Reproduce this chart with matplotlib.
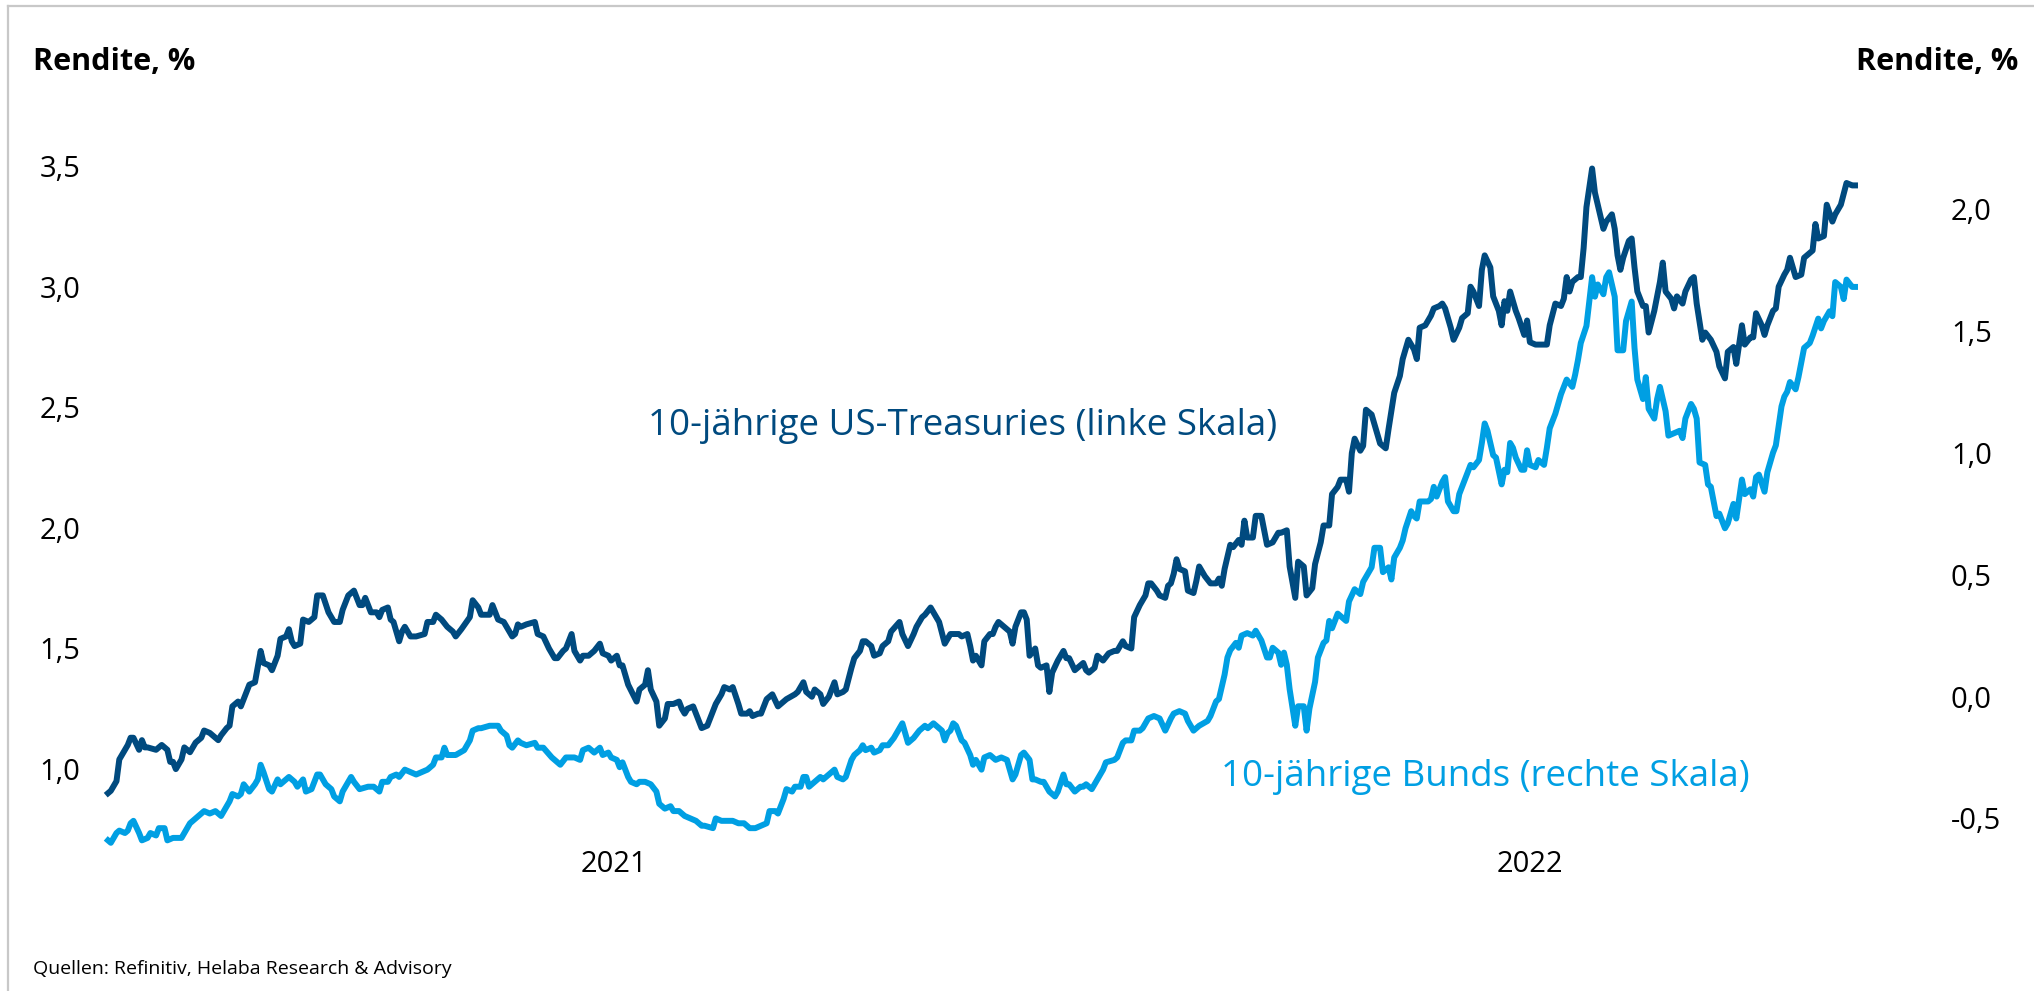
import matplotlib
matplotlib.use('Agg')
import matplotlib.pyplot as plt
from matplotlib.lines import Line2D
from matplotlib.ticker import FuncFormatter
import pandas as pd

plt.rcParams['font.family'] = ['Open Sans', 'DejaVu Sans']

# days counted from the first observation
start = pd.Timestamp('2021-01-04')

us_days = [
    0, 1, 3, 4, 5, 7, 8, 9, 11, 12, 13, 14, 17, 19, 21, 22, 23, 24, 26, 27,
    29, 31, 33, 34, 36, 39, 40, 42, 43, 44, 46, 47, 49, 50, 52, 54, 55, 57, 58, 60,
    61, 63, 64, 65, 66, 68, 69, 71, 73, 74, 76, 78, 80, 82, 83, 85, 86, 87, 89, 90,
    91, 93, 95, 96, 97, 99, 100, 101, 103, 104, 105, 107, 109, 112, 113, 115, 116, 118, 120, 122,
    123, 125, 128, 129, 131, 132, 135, 136, 138, 140, 141, 143, 144, 145,
    146, 148, 151, 152, 154, 156, 158, 159, 161, 162, 164, 165, 167, 168, 170, 172, 174, 175, 177, 178,
    180, 181, 182, 184, 187, 188, 190, 191, 192, 194, 195, 197, 198, 200, 202, 203, 204, 205, 207, 209,
    210, 212, 213, 215, 217, 218, 220, 221, 223, 224, 226, 227, 228, 230, 231, 233, 235, 237, 238, 240,
    243, 244, 246, 247, 249, 250, 252, 253, 255, 257, 258, 260, 261, 263, 264, 266, 267, 268, 270, 271,
    273, 274, 276, 277, 280, 281, 283, 285, 286, 288, 289, 291, 292, 294, 296,
    298, 300, 301, 302, 304, 305, 306, 307, 309, 310, 312, 313, 314, 315, 317, 319, 320, 321, 323, 324,
    325, 326, 328, 329, 330, 332, 333, 334, 336, 338, 339, 340, 342, 343, 345, 346, 347, 349, 350, 352,
    354, 356, 357, 359, 360, 362, 363, 365, 367, 368, 369, 371, 372, 374, 375, 376, 377, 378, 379, 381,
    382, 384, 385, 386, 388, 390, 392, 393, 394, 395, 397, 398, 400, 401, 402, 403, 405, 406, 408, 409,
    410, 412, 414, 415, 417, 418, 420, 421, 423, 424, 426, 427, 429, 430, 432, 433, 435, 436, 438, 439,
    440, 441, 443, 444, 445, 447, 449,
    450, 452, 453, 455, 457, 458, 460, 462, 463, 464, 466, 468, 469, 471, 472, 473, 475, 476, 478, 479,
    481, 482, 483, 485, 486, 487, 489, 490, 492, 493, 494, 495, 496, 498, 499, 501, 502, 503, 505, 506,
    507, 509, 510, 512, 514, 515, 516, 517, 518, 520, 521, 522, 523, 525, 526, 528, 529, 530, 532, 533,
    534, 535, 536, 538, 539, 540, 541, 543, 544, 545, 547, 549, 550, 551, 553, 554, 555, 557, 558, 560,
    561, 562, 564, 565, 567, 569, 570, 572, 573, 575, 576, 578, 579, 581, 582, 583, 585, 586, 587, 589,
    590, 591, 593, 594, 595, 597, 599, 600, 602, 603, 604, 605, 607, 608, 610, 611, 613, 615, 617, 618,
]
us_yield = [
    0.90, 0.91, 0.95, 1.04, 1.06, 1.10, 1.13, 1.13, 1.08, 1.12, 1.09, 1.09, 1.08, 1.10, 1.08, 1.03, 1.03, 1.00, 1.04, 1.09,
    1.07, 1.11, 1.13, 1.16, 1.15, 1.12, 1.14, 1.17, 1.18, 1.26, 1.28, 1.26, 1.32, 1.35, 1.36, 1.49, 1.44, 1.43, 1.41, 1.47,
    1.54, 1.55, 1.58, 1.53, 1.51, 1.52, 1.62, 1.61, 1.63, 1.72, 1.72, 1.65, 1.61, 1.61, 1.66, 1.72, 1.73, 1.74, 1.68, 1.68,
    1.71, 1.65, 1.65, 1.63, 1.66, 1.67, 1.62, 1.61, 1.53, 1.57, 1.59, 1.55, 1.55, 1.56, 1.61, 1.61, 1.64, 1.62, 1.59, 1.57,
    1.55, 1.58, 1.63, 1.70, 1.67, 1.64, 1.64, 1.68, 1.62, 1.61, 1.59, 1.55, 1.56, 1.60,
    1.59, 1.60, 1.61, 1.56, 1.55, 1.50, 1.46, 1.46, 1.49, 1.50, 1.56, 1.49, 1.45, 1.47, 1.47, 1.49, 1.52, 1.48, 1.47, 1.45,
    1.47, 1.43, 1.43, 1.35, 1.28, 1.33, 1.35, 1.41, 1.33, 1.28, 1.18, 1.21, 1.27, 1.27, 1.28, 1.25, 1.23, 1.25, 1.26, 1.20,
    1.17, 1.18, 1.21, 1.27, 1.31, 1.34, 1.33, 1.34, 1.27, 1.23, 1.23, 1.24, 1.22, 1.23, 1.23, 1.29, 1.31, 1.26, 1.27, 1.29,
    1.31, 1.32, 1.36, 1.32, 1.30, 1.33, 1.31, 1.27, 1.30, 1.36, 1.31, 1.32, 1.33, 1.42, 1.46, 1.49, 1.53, 1.53, 1.51, 1.47,
    1.48, 1.51, 1.53, 1.57, 1.61, 1.56, 1.51, 1.56, 1.59, 1.63, 1.64, 1.67, 1.65, 1.61, 1.52,
    1.56, 1.56, 1.56, 1.55, 1.56, 1.51, 1.45, 1.47, 1.43, 1.53, 1.56, 1.56, 1.59, 1.61, 1.59, 1.57, 1.52, 1.59, 1.65, 1.65,
    1.62, 1.47, 1.50, 1.43, 1.42, 1.43, 1.32, 1.40, 1.45, 1.49, 1.46, 1.46, 1.41, 1.42, 1.44, 1.41, 1.40, 1.42, 1.47, 1.45,
    1.48, 1.49, 1.49, 1.53, 1.51, 1.50, 1.63, 1.68, 1.72, 1.77, 1.77, 1.74, 1.72, 1.71, 1.76, 1.77, 1.81, 1.87, 1.83, 1.82,
    1.74, 1.73, 1.78, 1.84, 1.80, 1.77, 1.77, 1.79, 1.76, 1.83, 1.93, 1.92, 1.95, 1.93, 2.03, 1.96, 1.96, 2.05, 2.05, 1.99,
    1.93, 1.94, 1.98, 1.98, 1.99, 1.84, 1.71, 1.86, 1.84, 1.72, 1.75, 1.85, 1.94, 2.01, 2.01, 2.14, 2.17, 2.20, 2.20, 2.15,
    2.31, 2.37, 2.32, 2.34, 2.49, 2.47, 2.39,
    2.35, 2.33, 2.41, 2.56, 2.63, 2.70, 2.78, 2.74, 2.70, 2.83, 2.84, 2.88, 2.91, 2.92, 2.93, 2.91, 2.83, 2.78, 2.83, 2.87,
    2.89, 3.00, 2.98, 2.92, 3.07, 3.13, 3.08, 2.96, 2.90, 2.84, 2.94, 2.90, 2.98, 2.90, 2.87, 2.80, 2.86, 2.77, 2.76, 2.76,
    2.76, 2.76, 2.84, 2.93, 2.92, 2.95, 3.04, 2.98, 3.02, 3.04, 3.04, 3.16, 3.33, 3.49, 3.39, 3.29, 3.24, 3.27, 3.30, 3.24,
    3.13, 3.07, 3.12, 3.19, 3.20, 3.08, 2.98, 2.92, 2.92, 2.81, 2.90, 3.02, 3.10, 2.98, 2.95, 2.91, 2.96, 2.93, 2.98, 3.03,
    3.04, 2.93, 2.78, 2.81, 2.78, 2.73, 2.67, 2.62, 2.73, 2.75, 2.68, 2.84, 2.76, 2.79, 2.79, 2.89, 2.84, 2.80, 2.84, 2.90,
    2.91, 3.00, 3.05, 3.07, 3.12, 3.04, 3.05, 3.12, 3.14, 3.15, 3.26, 3.20, 3.21, 3.34, 3.27, 3.30, 3.34, 3.43, 3.42, 3.42,
]

bund_days = [
    0, 1, 3, 4, 6, 7, 8, 9, 11, 12, 14, 15, 17, 18, 20, 21, 23, 24, 26, 27,
    29, 31, 33, 34, 36, 38, 40, 41, 43, 44, 46, 47, 48, 50, 52, 53, 54, 55, 57, 58,
    60, 61, 63, 64, 66, 67, 69, 70, 72, 74, 75, 77, 79, 80, 82, 83, 85, 86, 87, 89,
    92, 94, 96, 97, 99, 100, 102, 103, 105, 107, 109, 111, 113, 115, 116, 118, 119, 120, 122, 123,
    126, 128, 129, 131, 132, 135, 136, 138, 139, 141, 142, 143, 145,
    146, 148, 151, 152, 154, 157, 158, 160, 162, 164, 165, 167, 168, 170, 172, 174, 175, 177, 178, 180,
    181, 182, 184, 185, 187, 188, 190, 192, 194, 195, 197, 199, 200, 202, 204, 206, 208, 210, 211, 214,
    215, 217, 219, 221, 223, 225, 227, 229, 231, 233, 234, 236, 237, 239, 240, 242, 243, 245, 246, 247,
    248, 250, 252, 253, 255, 257, 258, 260, 261, 263, 264, 266, 267, 268, 270, 271, 273, 274, 276, 278,
    280, 281, 282, 283, 285, 287, 289, 290, 292, 294, 295, 296, 297,
    298, 299, 300, 302, 303, 305, 306, 307, 309, 310, 312, 314, 316, 318, 319, 320, 321, 323, 324, 326,
    327, 328, 330, 331, 333, 335, 336, 338, 339, 340, 342, 344, 345, 346, 348, 349, 351, 352, 353, 356,
    357, 359, 360, 362, 363, 365, 366, 368, 370, 372, 374, 376, 377, 379, 381, 382, 384, 385, 386, 389,
    390, 392, 393, 395, 396, 397, 399, 400, 401, 403, 405, 406, 408, 410, 411, 412, 414, 415, 416, 417,
    418, 420, 421, 423, 424, 425, 427, 428, 430, 431, 432, 433, 435, 436, 438, 439, 441, 443, 444, 446,
    447, 448, 450,
    451, 453, 454, 455, 457, 458, 459, 461, 462, 463, 464, 467, 468, 469, 470, 472, 473, 474, 476, 477,
    478, 480, 482, 483, 485, 486, 487, 488, 490, 491, 493, 494, 495, 496, 497, 498, 500, 501, 502, 503,
    505, 506, 508, 509, 510, 512, 513, 514, 516, 518, 519, 520, 521, 523, 524, 525, 526, 527, 529, 530,
    531, 533, 534, 536, 537, 539, 540, 541, 543, 544, 545, 547, 548, 549, 551, 552, 554, 556, 557, 558,
    560, 561, 562, 563, 565, 566, 567, 569, 570, 572, 573, 575, 576, 578, 579, 581, 582, 583, 584, 586,
    587, 589, 590, 592, 593, 594, 595, 597, 598, 600, 602, 603, 605, 606, 607, 609, 610, 611, 613, 614,
    615, 617, 618,
]
bund_yield = [
    -0.59, -0.60, -0.56, -0.55, -0.56, -0.55, -0.52, -0.51, -0.56, -0.59, -0.58, -0.56, -0.57, -0.54, -0.54, -0.59, -0.58, -0.58, -0.58, -0.56,
    -0.52, -0.50, -0.48, -0.47, -0.48, -0.47, -0.49, -0.47, -0.43, -0.40, -0.41, -0.40, -0.36, -0.39, -0.36, -0.34, -0.28, -0.31, -0.38, -0.39,
    -0.34, -0.36, -0.34, -0.33, -0.35, -0.37, -0.34, -0.39, -0.38, -0.32, -0.32, -0.36, -0.38, -0.41, -0.43, -0.39, -0.35, -0.33, -0.35, -0.38,
    -0.37, -0.37, -0.39, -0.35, -0.35, -0.33, -0.32, -0.33, -0.30, -0.31, -0.32, -0.31, -0.30, -0.28, -0.25, -0.25, -0.21, -0.24, -0.24, -0.24,
    -0.22, -0.18, -0.14, -0.13, -0.13, -0.12, -0.12, -0.12, -0.14, -0.16, -0.20, -0.21, -0.18,
    -0.19, -0.20, -0.19, -0.21, -0.21, -0.25, -0.26, -0.28, -0.25, -0.25, -0.25, -0.26, -0.22, -0.21, -0.23, -0.21, -0.24, -0.23, -0.25, -0.26,
    -0.29, -0.27, -0.33, -0.35, -0.36, -0.35, -0.35, -0.36, -0.39, -0.44, -0.46, -0.45, -0.47, -0.47, -0.49, -0.50, -0.51, -0.53, -0.53, -0.54,
    -0.50, -0.51, -0.51, -0.51, -0.52, -0.52, -0.54, -0.54, -0.53, -0.52, -0.47, -0.47, -0.48, -0.42, -0.38, -0.39, -0.37, -0.37, -0.33, -0.33,
    -0.37, -0.35, -0.33, -0.34, -0.32, -0.30, -0.33, -0.34, -0.33, -0.26, -0.24, -0.22, -0.20, -0.22, -0.21, -0.23, -0.22, -0.20, -0.20, -0.17,
    -0.13, -0.11, -0.15, -0.19, -0.17, -0.14, -0.12, -0.13, -0.11, -0.13, -0.14, -0.18, -0.15,
    -0.14, -0.11, -0.12, -0.18, -0.19, -0.24, -0.28, -0.26, -0.30, -0.25, -0.24, -0.26, -0.25, -0.26, -0.30, -0.34, -0.32, -0.24, -0.23, -0.26,
    -0.34, -0.34, -0.35, -0.35, -0.39, -0.41, -0.39, -0.32, -0.36, -0.36, -0.39, -0.37, -0.37, -0.36, -0.38, -0.36, -0.32, -0.30, -0.27, -0.26,
    -0.25, -0.19, -0.18, -0.18, -0.14, -0.14, -0.13, -0.09, -0.08, -0.09, -0.14, -0.09, -0.07, -0.06, -0.07, -0.10, -0.14, -0.13, -0.12, -0.10,
    -0.08, -0.02, -0.01, 0.09, 0.16, 0.19, 0.22, 0.20, 0.25, 0.26, 0.25, 0.27, 0.23, 0.16, 0.16, 0.20, 0.18, 0.13, 0.18, 0.13,
    0.03, -0.12, -0.04, -0.04, -0.14, -0.05, 0.06, 0.16, 0.22, 0.23, 0.31, 0.28, 0.34, 0.33, 0.31, 0.39, 0.44, 0.42, 0.47, 0.51,
    0.53, 0.61, 0.61,
    0.51, 0.53, 0.48, 0.57, 0.61, 0.64, 0.69, 0.76, 0.74, 0.73, 0.80, 0.80, 0.81, 0.86, 0.82, 0.88, 0.90, 0.80, 0.76, 0.76,
    0.83, 0.89, 0.95, 0.94, 0.97, 1.04, 1.12, 1.09, 0.99, 0.98, 0.87, 0.93, 0.92, 1.04, 1.02, 0.98, 0.93, 0.93, 1.01, 0.95,
    0.94, 0.97, 0.95, 1.02, 1.10, 1.16, 1.20, 1.24, 1.30, 1.27, 1.32, 1.38, 1.45, 1.52, 1.62, 1.72, 1.64, 1.69, 1.65, 1.72,
    1.74, 1.64, 1.42, 1.42, 1.54, 1.62, 1.43, 1.30, 1.22, 1.31, 1.18, 1.14, 1.22, 1.27, 1.17, 1.07, 1.08, 1.09, 1.06, 1.14,
    1.20, 1.18, 1.14, 0.96, 0.95, 0.87, 0.86, 0.74, 0.75, 0.69, 0.71, 0.79, 0.73, 0.89, 0.83, 0.85, 0.82, 0.90, 0.91, 0.84,
    0.92, 1.00, 1.03, 1.19, 1.23, 1.25, 1.29, 1.26, 1.31, 1.43, 1.45, 1.48, 1.55, 1.51, 1.54, 1.58, 1.56, 1.70, 1.68, 1.63,
    1.71, 1.68, 1.68,
]

year_ticks = ['2021-07-02', '2022-05-22']
year_labels = ['2021', '2022']
left_ticks = [1.0, 1.5, 2.0, 2.5, 3.0, 3.5]
right_ticks = [-0.5, 0.0, 0.5, 1.0, 1.5, 2.0]

dark = '#004a7f'
light = '#009fe3'

W, H = 2034, 991


def fx(px):
    return px / W


def fy(py):
    return 1 - py / H


us_dates = start + pd.to_timedelta(us_days, unit='D')
bund_dates = start + pd.to_timedelta(bund_days, unit='D')

fig = plt.figure(figsize=(W / 100, H / 100), dpi=100)
ax = fig.add_axes([fx(108), fy(845), fx(1855) - fx(108), fy(100) - fy(845)])
ax2 = ax.twinx()

ax.plot(us_dates, us_yield, color=dark, lw=4.3, solid_joinstyle='round', clip_on=False)
ax2.plot(bund_dates, bund_yield, color=light, lw=4.3, solid_joinstyle='round', clip_on=False)

ax.set_xlim(start, start + pd.Timedelta(days=618))
ax.set_ylim(0.6853, 3.7741)
ax2.set_ylim(-0.6091, 2.4467)

comma = FuncFormatter(lambda v, p: '{:.1f}'.format(v).replace('.', ','))
ax.set_yticks(left_ticks)
ax.yaxis.set_major_formatter(comma)
ax2.set_yticks(right_ticks)
ax2.yaxis.set_major_formatter(comma)
ax.set_xticks(pd.to_datetime(year_ticks))
ax.set_xticklabels(year_labels)

ax.tick_params(axis='y', length=0, pad=20, labelsize=21)
ax2.tick_params(axis='y', length=0, pad=69, labelsize=21)
ax.tick_params(axis='x', length=0, pad=3.6, labelsize=21)

for a in (ax, ax2):
    for s in a.spines.values():
        s.set_visible(False)
    a.patch.set_visible(False)

fig.text(fx(33), fy(62), 'Rendite, %', ha='left', va='center', fontsize=22, fontweight='bold')
fig.text(fx(2018), fy(62), 'Rendite, %', ha='right', va='center', fontsize=22, fontweight='bold')

fig.text(fx(648), fy(435), '10-jährige US-Treasuries (linke Skala)', color=dark,
         fontsize=26.5, ha='left', va='baseline')
fig.text(fx(1221), fy(786), '10-jährige Bunds (rechte Skala)', color=light,
         fontsize=26.5, ha='left', va='baseline')

fig.text(fx(33), fy(974), 'Quellen: Refinitiv, Helaba Research & Advisory',
         fontsize=14, ha='left', va='baseline')

# thin grey frame on top and left
fig.add_artist(Line2D([fx(8), fx(8)], [fy(6), 0], color='#c8c8c8', lw=1.6, transform=fig.transFigure))
fig.add_artist(Line2D([fx(8), 1], [fy(6), fy(6)], color='#c8c8c8', lw=1.6, transform=fig.transFigure))

fig.savefig('out.png', dpi=100)
